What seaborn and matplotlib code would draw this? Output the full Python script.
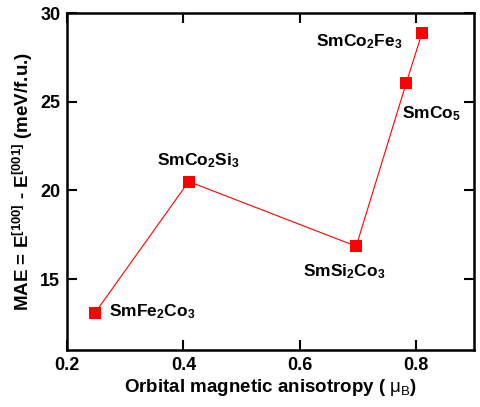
import numpy as np
import pandas as pd
import matplotlib
matplotlib.use("Agg")
import matplotlib.pyplot as plt
import seaborn as sns

# du lieu doc tu hinh goc
compounds = ["SmFe$_2$Co$_3$", "SmCo$_2$Si$_3$", "SmSi$_2$Co$_3$", "SmCo$_5$", "SmCo$_2$Fe$_3$"]
orbital_anis = [0.248, 0.409, 0.697, 0.783, 0.810]
mae = [13.1, 20.5, 16.85, 26.05, 28.85]

# vi tri nhan (offset theo diem, don vi points)
label_offsets = [(10, 1), (-23, 15), (-38, -18), (-3, -22), (-76, -6)]

sns.set_theme(style="ticks")
plt.rcParams['font.family'] = ['Liberation Sans', 'DejaVu Sans']
plt.rcParams['mathtext.fontset'] = 'custom'
plt.rcParams['mathtext.rm'] = 'Liberation Sans:bold'
plt.rcParams['mathtext.it'] = 'Liberation Sans:bold'
plt.rcParams['mathtext.bf'] = 'Liberation Sans:bold'
plt.rcParams['mathtext.sf'] = 'Liberation Sans'
for k in ['text.color', 'axes.labelcolor', 'xtick.color', 'ytick.color', 'axes.edgecolor']:
    plt.rcParams[k] = 'black'

df = pd.DataFrame({"x": orbital_anis, "y": mae, "name": compounds})

fig, ax = plt.subplots(figsize=(4.8, 4.07), dpi=100)
sns.lineplot(data=df, x="x", y="y", sort=False, color="#ff0000", lw=0.8,
             marker="s", markersize=8.5, markeredgewidth=0, ax=ax)

for (xv, yv, name), off in zip(zip(orbital_anis, mae, compounds), label_offsets):
    ax.annotate(name, (xv, yv), xytext=off, textcoords="offset points",
                fontsize=12.5, fontweight="bold", va="center", ha="left", color="black")

ax.set_xlim(0.2, 0.9)
ax.set_ylim(11, 30)
ax.set_xticks([0.2, 0.4, 0.6, 0.8])
ax.set_yticks([15, 20, 25, 30])
ax.tick_params(direction="in", length=7, width=1.5, top=True, right=True,
               labelsize=13, pad=5)
for lab in ax.get_xticklabels() + ax.get_yticklabels():
    lab.set_fontweight("bold")
for sp in ax.spines.values():
    sp.set_linewidth(1.8)
    sp.set_color("black")

ax.set_xlabel(r"Orbital magnetic anisotropy ( $\mathsf{\mu_{B}}$)", fontsize=13.5,
              fontweight="bold", labelpad=2)
ax.set_ylabel(r"MAE = E$^{[100]}$ - E$^{[001]}$ (meV/f.u.)", fontsize=13.5, fontweight="bold", labelpad=4)

fig.subplots_adjust(left=0.14, right=0.988, top=0.968, bottom=0.14)
fig.savefig("out.png", dpi=100)
